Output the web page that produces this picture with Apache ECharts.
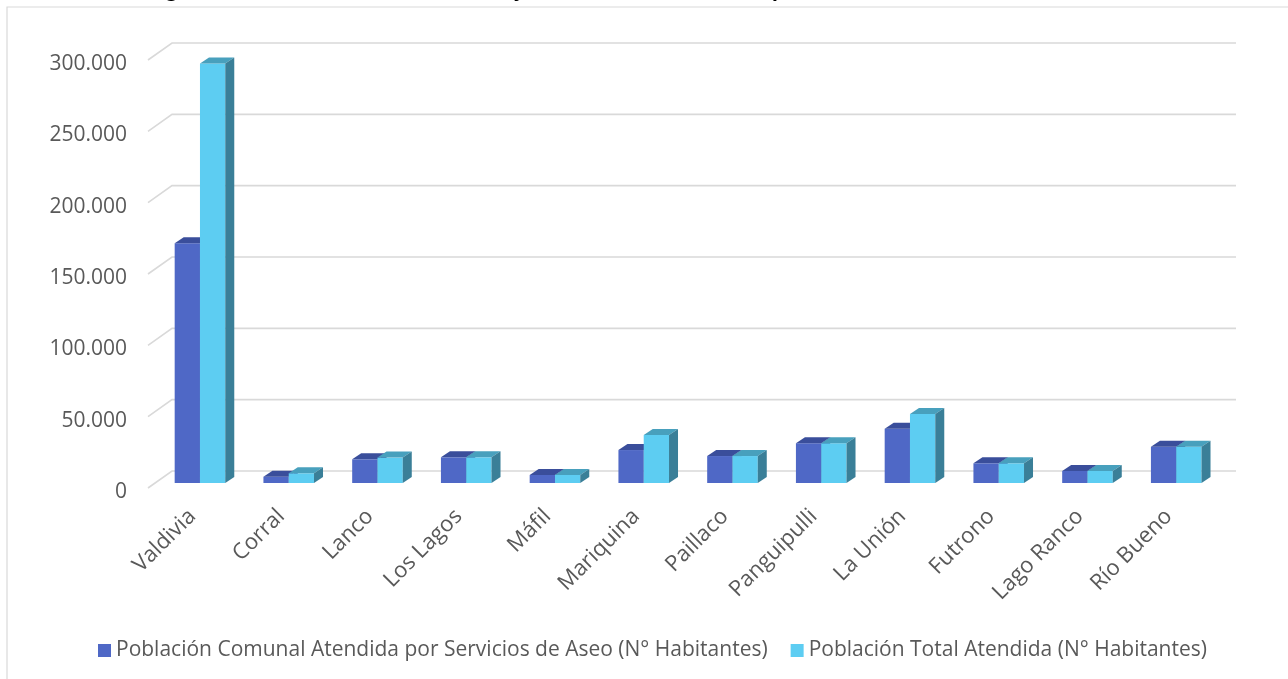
<!DOCTYPE html>
<html>
<head>
<meta charset="utf-8">
<style>
  html, body { margin: 0; padding: 0; background: #fff; }
  #chart { width: 1288px; height: 679px; }
</style>
<script src="https://cdn.jsdelivr.net/npm/echarts@6/dist/echarts.min.js"></script>
</head>
<body>
<div id="chart"></div>
<script>
const comunas = ['Valdivia', 'Corral', 'Lanco', 'Los Lagos', 'Máfil', 'Mariquina', 'Paillaco',
  'Panguipulli', 'La Unión', 'Futrono', 'Lago Ranco', 'Río Bueno']
const poblacionComunal = [168000, 4400, 16600, 18000, 5600, 23100, 18900, 27800, 38000, 13800, 8400, 25400]
const poblacionTotal = [294000, 6800, 17800, 18000, 5600, 33600, 18900, 27800, 48400, 13800, 8400, 25400]
const yTicks = [0, 50000, 100000, 150000, 200000, 250000, 300000]

const nombreComunal = 'Población Comunal Atendida por Servicios de Aseo (N° Habitantes)'
const nombreTotal = 'Población Total Atendida (N° Habitantes)'

const FONT = 'Open Sans'
const DEPTH_X = 9, DEPTH_Y = 6   // profundidad de cada barra
const SHIFT_X = 7.6, SHIFT_Y = 5 // barras un poco detras del borde frontal

const fmt = v => '{n|' + String(v).replace(/\B(?=(\d{3})+(?!\d))/g, '.') + '}'

// barra con cara frontal, tapa y costado
const bar3d = (left, front, top, flank) => (params, api) => {
  const i = api.value(0)
  const c = api.coord([i, api.value(1)])
  const b = api.coord([i, 0])
  const w = api.size([1, 0])[0] * 0.285
  const mid = c[0] + SHIFT_X
  const x0 = left ? mid - w : mid
  const yt = c[1] - SHIFT_Y
  const yb = b[1] - SHIFT_Y
  return {
    type: 'group',
    children: [
      { type: 'rect', shape: { x: x0, y: yt, width: w, height: yb - yt }, style: { fill: front } },
      { type: 'polygon', shape: { points: [[x0, yt], [x0 + w, yt], [x0 + w + DEPTH_X, yt - DEPTH_Y], [x0 + DEPTH_X, yt - DEPTH_Y]] }, style: { fill: top } },
      { type: 'polygon', shape: { points: [[x0 + w, yt], [x0 + w + DEPTH_X, yt - DEPTH_Y], [x0 + w + DEPTH_X, yb - DEPTH_Y], [x0 + w, yb]] }, style: { fill: flank } }
    ]
  }
}

const chart = echarts.init(document.getElementById('chart'))
chart.setOption({
  animation: false,
  title: {
    text: 'Figura 5: Población Comunal Atendida y Población Total Atendida por Comunas de Los Ríos',
    left: 146,
    top: -25,
    textStyle: { fontFamily: FONT, fontSize: 20, fontStyle: 'italic', fontWeight: 'bold', color: '#000' }
  },
  graphic: [{
    type: 'rect',
    shape: { x: 7, y: 7, width: 1300, height: 700 },
    style: { fill: 'none', stroke: '#d9d9d9', lineWidth: 1.2 },
    silent: true
  }],
  legend: {
    data: [nombreComunal, nombreTotal],
    left: 93,
    top: 635,
    itemWidth: 13,
    itemHeight: 13,
    itemGap: 23,
    icon: 'rect',
    textStyle: { fontFamily: FONT, fontSize: 21, color: '#595959' }
  },
  grid: { left: 148, top: 60, width: 1065, height: 428 },
  xAxis: {
    type: 'category',
    data: comunas,
    axisLine: { show: false },
    axisTick: { show: false },
    axisLabel: { rotate: 45, margin: 25, fontFamily: FONT, fontSize: 22, color: '#595959', interval: 0 }
  },
  yAxis: {
    type: 'value',
    min: 0,
    max: 300000,
    interval: 50000,
    axisLine: { show: false },
    axisTick: { show: false },
    splitLine: { show: false },
    axisLabel: {
      margin: 21,
      formatter: fmt,
      rich: { n: { fontFamily: FONT, fontSize: 21, color: '#595959', padding: [8, 0, 0, 0] } }
    }
  },
  series: [
    {
      type: 'custom',
      silent: true,
      data: yTicks.map(v => [0, v]),
      renderItem: (params, api) => {
        const y = api.coord([0, api.value(1)])[1]
        const cs = params.coordSys
        return {
          type: 'polyline',
          shape: { points: [[cs.x, y], [cs.x + 24, y - 17], [cs.x + cs.width + 23, y - 17]] },
          style: { stroke: '#d9d9d9', lineWidth: 1.6, fill: null }
        }
      },
      z: 1
    },
    {
      name: nombreComunal,
      type: 'custom',
      itemStyle: { color: '#4f68c6' },
      data: poblacionComunal.map((v, i) => [i, v]),
      renderItem: bar3d(true, '#4f68c6', '#3a4e9b', '#34468c'),
      z: 2
    },
    {
      name: nombreTotal,
      type: 'custom',
      itemStyle: { color: '#5dcdf2' },
      data: poblacionTotal.map((v, i) => [i, v]),
      renderItem: bar3d(false, '#5dcdf2', '#48a0bd', '#3a7f98'),
      z: 3
    }
  ]
})
</script>
</body>
</html>
